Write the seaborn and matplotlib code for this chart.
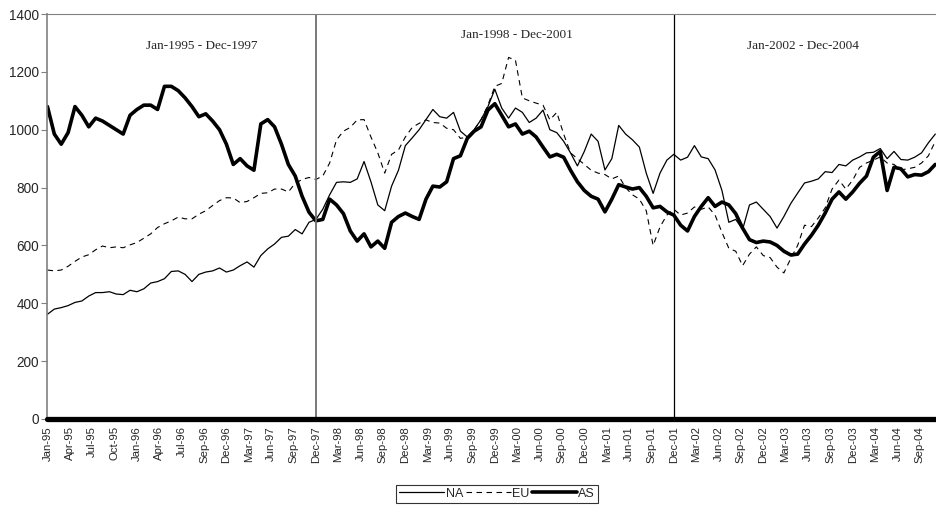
import numpy as np
import pandas as pd
import matplotlib
matplotlib.use('Agg')
import matplotlib.pyplot as plt
import seaborn as sns

# readings every 20 trading days, axis labels every 65 trading days
step = 20
tick_every = 65

na = [362, 380, 385, 392, 403, 408, 425, 437, 437, 440, 432, 430, 445, 440, 450, 470, 475, 485, 510, 512,
      500, 475, 500, 508, 512, 522, 508, 515, 530, 543, 525, 565, 588, 605, 628, 632, 655, 640, 680, 690,
      725, 775, 818, 820, 818, 830, 890, 820, 740, 720, 805, 860, 945, 972, 1000, 1035, 1070, 1045, 1040, 1060,
      995, 975, 1000, 1035, 1080, 1140, 1075, 1040, 1075, 1060, 1025, 1040, 1068, 1000, 990, 960, 920, 875, 925, 985,
      960, 861, 900, 1015, 985, 965, 940, 850, 780, 850, 895, 915, 895, 905, 945, 906, 900, 861, 790, 680,
      690, 655, 740, 750, 725, 700, 660, 700, 745, 781, 816, 822, 830, 855, 852, 880, 875, 895, 906, 920,
      922, 935, 900, 925, 897, 895, 905, 920, 955, 985]

eu = [515, 512, 515, 528, 545, 560, 568, 585, 598, 592, 595, 592, 602, 610, 625, 640, 662, 675, 685, 698,
      692, 692, 708, 720, 738, 755, 765, 764, 748, 752, 765, 780, 782, 795, 795, 785, 815, 828, 835, 828,
      840, 885, 965, 995, 1008, 1034, 1035, 975, 920, 850, 915, 930, 975, 1008, 1022, 1034, 1025, 1023, 1005, 1000,
      970, 975, 1000, 1035, 1085, 1150, 1160, 1250, 1240, 1110, 1100, 1092, 1085, 1034, 1060, 985, 920, 900, 880, 860,
      850, 845, 830, 840, 800, 775, 760, 720, 600, 664, 705, 725, 705, 712, 733, 725, 733, 705, 645, 590,
      580, 530, 570, 595, 565, 558, 525, 505, 555, 600, 670, 665, 695, 730, 795, 826, 795, 826, 870, 885,
      895, 906, 885, 880, 861, 865, 870, 885, 910, 960]

asia = [1080, 985, 950, 990, 1080, 1050, 1010, 1040, 1030, 1015, 1000, 985, 1050, 1070, 1085, 1085, 1070, 1150, 1150, 1135,
        1110, 1080, 1045, 1055, 1030, 1000, 950, 880, 900, 875, 860, 1020, 1035, 1010, 950, 880, 840, 770, 715, 685,
        690, 760, 740, 710, 650, 615, 640, 595, 615, 590, 680, 700, 712, 700, 690, 760, 805, 802, 820, 900,
        910, 970, 995, 1010, 1068, 1090, 1050, 1010, 1020, 985, 995, 975, 940, 906, 915, 905, 860, 820, 790, 770,
        760, 716, 760, 810, 802, 795, 800, 770, 730, 735, 716, 705, 670, 650, 700, 735, 765, 735, 750, 740,
        710, 660, 620, 610, 615, 612, 600, 580, 567, 570, 605, 635, 670, 712, 760, 785, 760, 785, 815, 840,
        905, 925, 790, 870, 865, 837, 845, 843, 855, 880]

xlabels = ['Jan-95', 'Apr-95', 'Jul-95', 'Oct-95', 'Jan-96', 'Apr-96', 'Jul-96', 'Sep-96', 'Dec-96', 'Mar-97',
           'Jun-97', 'Sep-97', 'Dec-97', 'Mar-98', 'Jun-98', 'Sep-98', 'Dec-98', 'Mar-99', 'Jun-99', 'Sep-99',
           'Dec-99', 'Mar-00', 'Jun-00', 'Sep-00', 'Dec-00', 'Mar-01', 'Jun-01', 'Sep-01', 'Dec-01', 'Mar-02',
           'Jun-02', 'Sep-02', 'Dec-02', 'Mar-03', 'Jun-03', 'Sep-03', 'Dec-03', 'Mar-04', 'Jun-04', 'Sep-04']

periods = ['Jan-1995 - Dec-1997', 'Jan-1998 - Dec-2001', 'Jan-2002 - Dec-2004']

df = pd.DataFrame({'day': np.arange(len(na)) * step, 'NA': na, 'EU': eu, 'AS': asia})

sns.set_style('white')
plt.rcParams['font.family'] = ['Liberation Sans', 'DejaVu Sans']

fig = plt.figure(figsize=(9.36, 5.08), dpi=100)
ax = fig.add_axes([0.0507, 0.1752, 0.9493, 0.7972])

handles = []
sns.lineplot(data=df, x='day', y='NA', ax=ax, color='black', lw=0.9)
handles.append(ax.lines[-1])
sns.lineplot(data=df, x='day', y='EU', ax=ax, color='black', lw=0.8, linestyle=(0, (5, 4)))
handles.append(ax.lines[-1])
sns.lineplot(data=df, x='day', y='AS', ax=ax, color='black', lw=2.6)
handles.append(ax.lines[-1])

# thick zero line along the bottom
ax.axhline(0, color='black', lw=3.8, clip_on=False, zorder=5)

# period separators
ax.axvline(xlabels.index('Dec-97') * tick_every, color='#707070', lw=1.3)
ax.axvline(xlabels.index('Dec-01') * tick_every, color='black', lw=0.9)

ax.set_xlim(0, 2582)
ax.set_ylim(0, 1400)
ax.set_yticks(range(0, 1401, 200))
ax.set_xticks(np.arange(len(xlabels)) * tick_every)
ax.set_xticklabels(xlabels, rotation=90, fontsize=8.2)
ax.set_xlabel('')
ax.set_ylabel('')
ax.tick_params(axis='y', left=True, length=4, width=0.8, color='#808080', labelsize=9.8, pad=2)
ax.tick_params(axis='x', bottom=False, length=0, pad=5)

ax.spines['right'].set_visible(False)
ax.spines['bottom'].set_visible(False)
ax.spines['left'].set_color('#808080')
ax.spines['left'].set_linewidth(1.2)
ax.spines['top'].set_color('#808080')
ax.spines['top'].set_linewidth(0.8)

txt_pos = [(0.1739, 0.921), (0.5284, 0.948), (0.8503, 0.921)]
for (tx, ty), s in zip(txt_pos, periods):
    ax.text(tx, ty, s, transform=ax.transAxes, ha='center', va='center',
            fontsize=9.5, family=['Liberation Serif', 'DejaVu Serif'])

leg = fig.legend(handles, ['NA', 'EU', 'AS'], ncol=3, loc='center', bbox_to_anchor=(0.531, 0.028),
                 frameon=True, fancybox=False, fontsize=9, handlelength=3.6, handletextpad=0.1,
                 columnspacing=0.2, borderpad=0.25)
leg.get_frame().set_edgecolor('black')
leg.get_frame().set_linewidth(0.8)

fig.savefig('out.png', dpi=100)
